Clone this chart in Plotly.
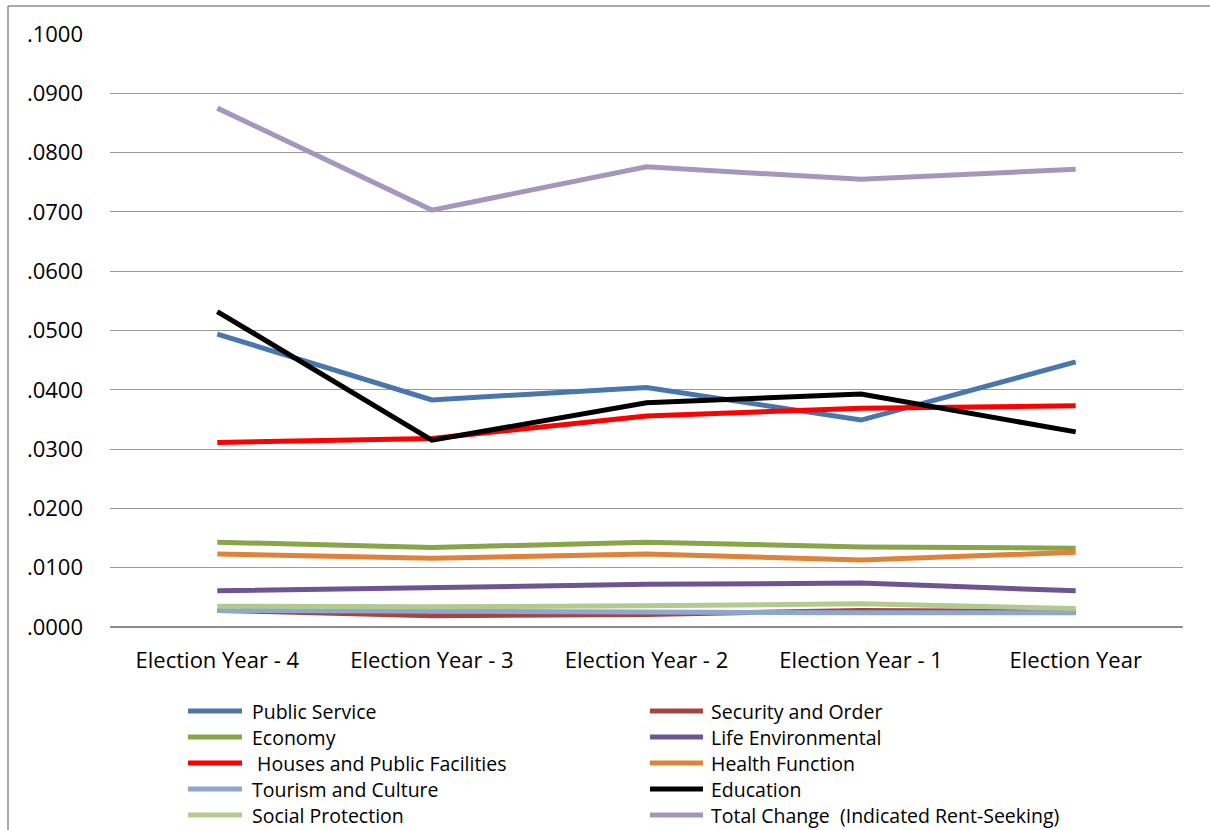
import plotly.graph_objects as go

# Budget shares by function across the election cycle
periods = ["Election Year - 4", "Election Year - 3", "Election Year - 2",
           "Election Year - 1", "Election Year"]

public_service = [0.0494, 0.0383, 0.0404, 0.0349, 0.0447]
security_order = [0.0028, 0.0019, 0.0021, 0.0028, 0.0026]
economy = [0.0143, 0.0134, 0.0143, 0.0135, 0.0133]
life_environmental = [0.0061, 0.0067, 0.0072, 0.0074, 0.0061]
houses_facilities = [0.0311, 0.0318, 0.0356, 0.0369, 0.0373]
health_function = [0.0123, 0.0116, 0.0123, 0.0113, 0.0126]
tourism_culture = [0.0028, 0.0026, 0.0026, 0.0024, 0.0024]
education = [0.0532, 0.0315, 0.0378, 0.0393, 0.0329]
social_protection = [0.0035, 0.0034, 0.0036, 0.0039, 0.0031]
total_change = [0.0875, 0.0703, 0.0776, 0.0755, 0.0772]

ytick_vals = [0.0, 0.01, 0.02, 0.03, 0.04, 0.05, 0.06, 0.07, 0.08, 0.09, 0.10]
ytick_text = [".0000", ".0100", ".0200", ".0300", ".0400", ".0500",
              ".0600", ".0700", ".0800", ".0900", ".1000"]

series = [
    ("Public Service", public_service, "#4A76AE"),
    ("Security and Order", security_order, "#A84440"),
    ("Economy", economy, "#88A54A"),
    ("Life Environmental", life_environmental, "#6E5592"),
    (" Houses and Public Facilities", houses_facilities, "#FF0000"),
    ("Health Function", health_function, "#E08237"),
    ("Tourism and Culture", tourism_culture, "#8EA7CE"),
    ("Education", education, "#000000"),
    ("Social Protection", social_protection, "#B2CA8F"),
    ("Total Change  (Indicated Rent-Seeking)", total_change, "#A596BE"),
]

FONT = "'Open Sans', Lato, sans-serif"

# page geometry (pixels) of the plotting area
W, H = 1210, 830
L, R, T, B = 110, 27, 34, 203
PW, PH = W - L - R, H - T - B


def px_x(px):
    return (px - L) / PW


def px_y(py):
    return (H - B - py) / PH


fig = go.Figure()
for name, vals, color in series:
    fig.add_trace(go.Scatter(
        x=periods, y=vals, name=name, mode="lines",
        line=dict(color=color, width=5), showlegend=False,
    ))

# two-column key below the plot
shapes = []
annotations = []
row_y = [711, 737, 763, 789, 815]
col_line = [(188, 242), (650, 703)]
col_text = [251, 710]
for i, (name, vals, color) in enumerate(series):
    col, row = i % 2, i // 2
    y = px_y(row_y[row])
    x0, x1 = col_line[col]
    shapes.append(dict(type="line", xref="paper", yref="paper",
                       x0=px_x(x0), x1=px_x(x1), y0=y, y1=y,
                       line=dict(color=color, width=5)))
    label = name.replace(" ", "&nbsp;", 1) if name.startswith(" ") else name
    annotations.append(dict(xref="paper", yref="paper",
                            x=px_x(col_text[col]), y=y,
                            xanchor="left", yanchor="middle",
                            text=label, showarrow=False, borderpad=0,
                            font=dict(family=FONT, size=19.5, color="#000000")))

# outer chart frame (left and top edges)
frame = dict(color="#8C8C8C", width=1.5)
shapes.append(dict(type="line", xref="paper", yref="paper",
                   x0=px_x(8), x1=px_x(8), y0=px_y(6), y1=px_y(H),
                   line=frame))
shapes.append(dict(type="line", xref="paper", yref="paper",
                   x0=px_x(8), x1=px_x(W), y0=px_y(6), y1=px_y(6),
                   line=frame))

fig.update_layout(
    width=W, height=H,
    margin=dict(l=L, r=R, t=T, b=B, autoexpand=False),
    paper_bgcolor="white", plot_bgcolor="white",
    font=dict(family=FONT, color="#000000"),
    showlegend=False,
    xaxis=dict(
        range=[-0.5, 4.5],
        showgrid=False, zeroline=False, showline=False,
        ticks="", tickfont=dict(size=22, family=FONT),
        ticklabelstandoff=18,
    ),
    yaxis=dict(
        range=[0, 0.1], tickvals=ytick_vals, ticktext=ytick_text,
        showgrid=True, gridcolor="#9A9A9A", gridwidth=1.3,
        zeroline=True, zerolinecolor="#8C8C8C", zerolinewidth=2,
        showline=False, ticks="", tickfont=dict(size=22, family=FONT),
        ticklabelstandoff=26,
    ),
    shapes=shapes,
    annotations=annotations,
)

fig.write_html("out.html")
